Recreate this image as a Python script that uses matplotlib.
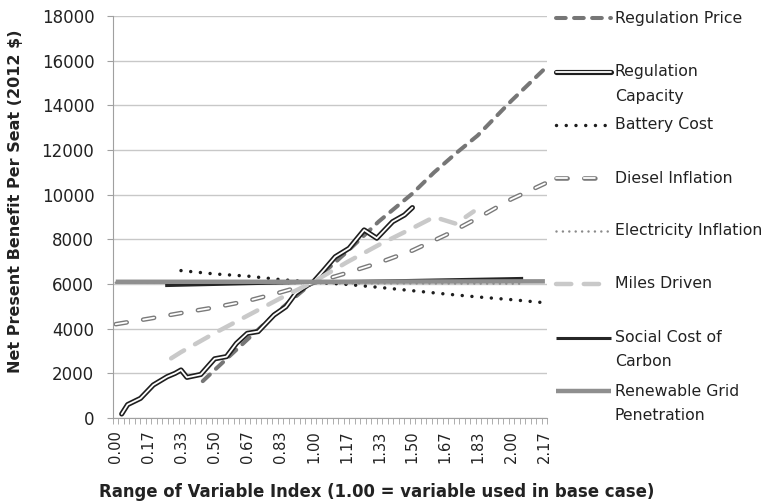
import numpy as np
import matplotlib
matplotlib.use('Agg')
import matplotlib.pyplot as plt
import matplotlib.patheffects as pe
from matplotlib.lines import Line2D

# ----- data (x = variable index, y = NPV per seat, 2012 $) ----- #
reg_price_x = [0.44, 0.50, 0.67, 0.83, 1.00, 1.17, 1.33, 1.50, 1.61, 1.72, 1.83, 2.00, 2.17]
reg_price_y = [1650, 2150, 3550, 4850, 6100, 7450, 8800, 10050, 11000, 11850, 12650, 14200, 15650]

reg_cap_x = [0.03, 0.06, 0.125, 0.19, 0.26, 0.30, 0.33, 0.36, 0.43, 0.50, 0.56, 0.61, 0.665,
             0.72, 0.80, 0.86, 0.91, 0.97, 1.00, 1.05, 1.11, 1.18, 1.256, 1.32, 1.40, 1.46, 1.50]
reg_cap_y = [180, 600, 880, 1480, 1850, 2000, 2150, 1820, 1950, 2650, 2750, 3340, 3790,
             3870, 4610, 4980, 5580, 5950, 6100, 6600, 7220, 7600, 8420, 8050, 8790, 9090, 9420]

battery_x = [0.33, 0.50, 0.67, 0.83, 1.00, 1.17, 1.33, 1.50, 1.67, 1.83, 2.00, 2.17]
battery_y = [6600, 6450, 6350, 6200, 6080, 5980, 5850, 5700, 5550, 5420, 5300, 5160]

diesel_x = [0.00, 0.17, 0.33, 0.50, 0.67, 0.83, 1.00, 1.17, 1.33, 1.50, 1.67, 1.83, 2.00, 2.17]
diesel_y = [4200, 4450, 4700, 4950, 5250, 5620, 6050, 6500, 6950, 7500, 8200, 8950, 9800, 10500]

elec_x = [0.00, 0.50, 1.00, 1.50, 2.06]
elec_y = [6060, 6045, 6035, 6025, 6015]

miles_x = [0.28, 0.33, 0.50, 0.67, 0.83, 1.00, 1.17, 1.33, 1.50, 1.61, 1.72, 1.81]
miles_y = [2670, 2950, 3800, 4600, 5350, 6100, 6980, 7750, 8500, 9000, 8700, 9250]

carbon_x = [0.25, 1.00, 2.06]
carbon_y = [5930, 6080, 6250]

renew_x = [0.00, 1.00, 2.17]
renew_y = [6100, 6100, 6120]

labels = ['Regulation Price', 'Regulation\nCapacity', 'Battery Cost', 'Diesel Inflation',
          'Electricity Inflation', 'Miles Driven', 'Social Cost of\nCarbon',
          'Renewable Grid\nPenetration']
xtick_vals = np.arange(14) / 6
yticks = np.arange(0, 18001, 2000)

# ----- styles ----- #
plt.rcParams['font.family'] = 'DejaVu Sans'
plt.rcParams['lines.scale_dashes'] = False
txt = '#222222'

styles = [
    dict(color='#767676', lw=2.9, ls=(0, (7, 6)), dash_capstyle='round'),
    dict(color='white', lw=1.3, solid_capstyle='round',
         path_effects=[pe.Stroke(linewidth=3.7, foreground='#1e1e1e'), pe.Normal()]),
    dict(color='#1e1e1e', lw=2.5, ls=(0, (0.01, 7)), dash_capstyle='round'),
    dict(color='white', lw=1.3, ls=(0, (8, 12)), dash_capstyle='round',
         path_effects=[pe.Stroke(linewidth=3.3, foreground='#7a7a7a'), pe.Normal()]),
    dict(color='#8a8a8a', lw=1.8, ls=(0, (0.01, 4.6)), dash_capstyle='round'),
    dict(color='#c9c9c9', lw=3.2, ls=(0, (11, 9)), dash_capstyle='round'),
    dict(color='#262626', lw=2.2, solid_capstyle='butt'),
    dict(color='#8f8f8f', lw=3.2, solid_capstyle='butt'),
]
series = [(reg_price_x, reg_price_y), (reg_cap_x, reg_cap_y), (battery_x, battery_y),
          (diesel_x, diesel_y), (elec_x, elec_y), (miles_x, miles_y),
          (carbon_x, carbon_y), (renew_x, renew_y)]

W, H = 765, 504
fig = plt.figure(figsize=(W / 100, H / 100), dpi=100)
ax = fig.add_axes([113 / W, 1 - 418 / H, (547 - 113) / W, (418 - 16) / H])

for (xs, ys), st in zip(series, styles):
    ax.plot(xs, ys, **st)

ax.set_xlim(-0.5 / 36, 78.5 / 36)
ax.set_ylim(0, 18000)
ax.set_yticks(yticks)
ax.set_yticklabels([str(v) for v in yticks], fontsize=12, color=txt)
ax.set_xticks(xtick_vals)
ax.set_xticklabels(['%.2f' % v for v in xtick_vals], rotation=90, fontsize=10.5, color=txt)
ax.set_xticks((np.arange(80) - 0.5) / 36, minor=True)
ax.tick_params(axis='x', which='major', length=0, pad=9)
ax.tick_params(axis='x', which='minor', length=4, color='#a0a0a0', direction='out')
ax.tick_params(axis='y', length=4.5, color='#a0a0a0', pad=9)
ax.grid(axis='y', color='#c8c8c8', lw=1)
ax.set_axisbelow(True)
for s in ['top', 'right']:
    ax.spines[s].set_visible(False)
for s in ['left', 'bottom']:
    ax.spines[s].set_color('#a0a0a0')

fig.text(377 / W, 1 - 492 / H, 'Range of Variable Index (1.00 = variable used in base case)',
         ha='center', va='center', fontsize=11.9, fontweight='bold', color=txt)
fig.text(16 / W, 1 - 201 / H, 'Net Present Benefit Per Seat (2012 $)', rotation=90,
         ha='center', va='center', fontsize=11.5, fontweight='bold', color=txt)

# ----- legend on the right, handle level with first text line ----- #
leg_rows = [18, 72, 125, 178, 231, 284, 338, 391]
for row, lab, st in zip(leg_rows, labels, styles):
    fy = 1 - row / H
    fig.add_artist(Line2D([556 / W, 611 / W], [fy, fy], transform=fig.transFigure, **st))
    for i, part in enumerate(lab.split('\n')):
        fig.text(615 / W, 1 - (row + 24 * i) / H, part, ha='left', va='center',
                 fontsize=11.3, color=txt)

fig.savefig('out.png', dpi=100)
